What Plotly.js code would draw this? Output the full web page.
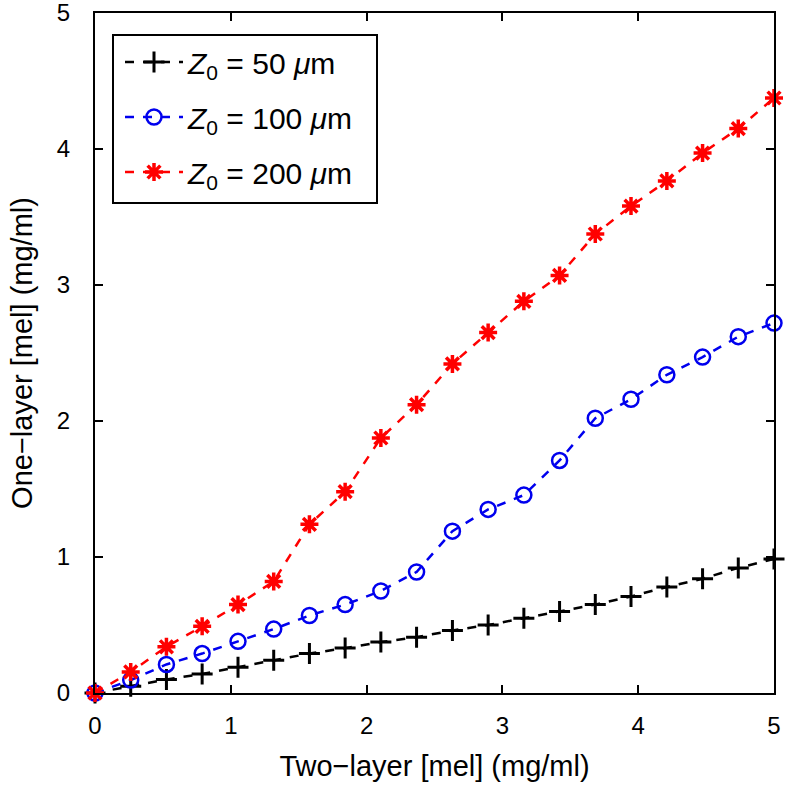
<!DOCTYPE html>
<html>
<head>
<meta charset="utf-8">
<script src="https://cdn.plot.ly/plotly-3.0.1.min.js"></script>
<style>html,body{margin:0;padding:0;background:#fff;}#plot{width:787px;height:787px;}</style>
</head>
<body>
<div id="plot"></div>
<script>
var xValues = [0, 0.263, 0.526, 0.789, 1.053, 1.316, 1.579, 1.842, 2.105, 2.368, 2.632, 2.895, 3.158, 3.421, 3.684, 3.947, 4.211, 4.474, 4.737, 5];
var z50 = [0, 0.05, 0.1, 0.14, 0.19, 0.24, 0.29, 0.33, 0.375, 0.41, 0.46, 0.50, 0.55, 0.60, 0.65, 0.71, 0.78, 0.84, 0.92, 0.985];
var z100 = [0, 0.095, 0.21, 0.29, 0.38, 0.47, 0.57, 0.65, 0.75, 0.89, 1.19, 1.35, 1.455, 1.71, 2.02, 2.16, 2.34, 2.47, 2.62, 2.72];
var z200 = [0, 0.155, 0.34, 0.49, 0.65, 0.82, 1.24, 1.48, 1.875, 2.12, 2.42, 2.65, 2.88, 3.07, 3.375, 3.58, 3.765, 3.97, 4.15, 4.375];
var seriesNames = ['<i>Z</i><sub>0</sub> = 50 <i>μ</i>m', '<i>Z</i><sub>0</sub> = 100 <i>μ</i>m', '<i>Z</i><sub>0</sub> = 200 <i>μ</i>m'];
var tickVals = [0, 1, 2, 3, 4, 5];

var traces = [
  {x: xValues, y: z50, name: seriesNames[0], legendgroup: 'a', mode: 'lines+markers', cliponaxis: false,
   line: {color: '#000000', dash: 'dash', width: 2.5},
   marker: {symbol: 'cross-thin-open', size: 15, color: '#000000', line: {color: '#000000', width: 3}}},
  {x: xValues, y: z100, name: seriesNames[1], legendgroup: 'b', mode: 'lines+markers', cliponaxis: false,
   line: {color: '#0000ee', dash: 'dash', width: 2.5},
   marker: {symbol: 'circle-open', size: 15, color: '#0000ee', line: {color: '#0000ee', width: 2.5}}},
  {x: xValues, y: z200, name: seriesNames[2], legendgroup: 'c', mode: 'lines+markers', cliponaxis: false,
   line: {color: '#ff0000', dash: 'dash', width: 2.5},
   marker: {symbol: 'asterisk-open', size: 15, color: '#ff0000', line: {color: '#ff0000', width: 3.5}}}
];

var axisCommon = {
  range: [0, 5], tickvals: tickVals, ticktext: tickVals.map(String),
  showline: true, mirror: 'ticks', linecolor: '#000', linewidth: 2,
  ticks: 'inside', ticklen: 8, tickwidth: 2, tickcolor: '#000',
  showgrid: false, zeroline: false, ticklabeloverflow: 'allow',
  tickfont: {family: 'Liberation Sans, Arial, sans-serif', size: 24, color: '#000'}
};

var legendBox = {x0: 113, x1: 377, y0: 35, y1: 203};
var plotBox = {l: 95, r: 774, t: 13, b: 693};
function px2paperX(p) { return (p - plotBox.l) / (plotBox.r - plotBox.l); }
function px2paperY(p) { return (plotBox.b - p) / (plotBox.b - plotBox.t); }

var layout = {
  width: 787, height: 787,
  margin: {l: 95, r: 13, t: 13, b: 94},
  paper_bgcolor: '#fff', plot_bgcolor: '#fff',
  font: {family: 'Liberation Sans, Arial, sans-serif', color: '#000'},
  xaxis: Object.assign({}, axisCommon, {
    ticklabelstandoff: 10,
    title: {text: 'Two\u2212layer [mel] (mg/ml)', font: {size: 29, color: '#000'}, standoff: 18}
  }),
  yaxis: Object.assign({}, axisCommon, {
    ticklabelstandoff: 18,
    title: {text: 'One\u2212layer [mel] (mg/ml)', font: {size: 29, color: '#000'}, standoff: 16}
  }),
  shapes: [{
    type: 'rect', xref: 'paper', yref: 'paper', layer: 'above',
    x0: px2paperX(legendBox.x0), x1: px2paperX(legendBox.x1),
    y0: px2paperY(legendBox.y1), y1: px2paperY(legendBox.y0),
    fillcolor: '#fff', line: {color: '#000', width: 2}
  }],
  showlegend: true,
  legend: {
    x: px2paperX(legendBox.x0 + 7), y: px2paperY(legendBox.y0 + 1), xanchor: 'left', yanchor: 'top',
    bgcolor: 'rgba(0,0,0,0)', borderwidth: 0,
    font: {family: 'Liberation Sans, Arial, sans-serif', size: 30, color: '#000'},
    itemwidth: 58, traceorder: 'grouped', tracegroupgap: 13
  }
};

Plotly.newPlot('plot', traces, layout, {displayModeBar: false, staticPlot: true});
</script>
</body>
</html>
